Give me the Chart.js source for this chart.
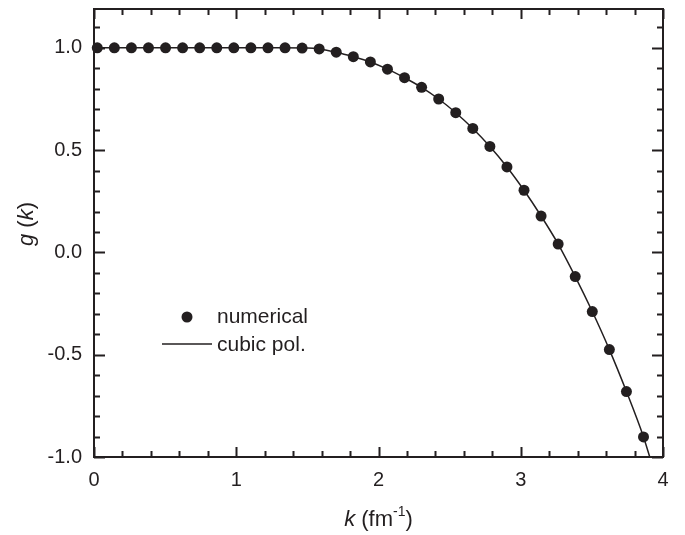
<!DOCTYPE html>
<html>
<head>
<meta charset="utf-8">
<script src="https://cdn.jsdelivr.net/npm/chart.js@4.4.1/dist/chart.umd.min.js"></script>
<style>
  html, body { margin: 0; padding: 0; background: #fff; }
  #wrap { width: 685px; height: 535px; }
</style>
</head>
<body>
<div id="wrap"><canvas id="gChart"></canvas></div>
<script>
// numerical points g(k)
const kPoints = [
    0.023, 0.143, 0.263, 0.383, 0.503, 0.623, 0.743, 0.863, 0.983, 1.103, 1.223,
    1.343, 1.463, 1.583, 1.703, 1.823, 1.943, 2.063, 2.183, 2.303, 2.423, 2.543,
    2.663, 2.783, 2.903, 3.023, 3.143, 3.263, 3.383, 3.503, 3.623, 3.743, 3.863,
];
const gPoints = [
    1.0, 1.0, 1.0, 1.0, 1.0, 1.0, 1.0, 1.0, 1.0, 1.0, 1.0,
    1.0, 0.999, 0.995, 0.979, 0.957, 0.931, 0.896, 0.854, 0.807, 0.750, 0.683,
    0.606, 0.518, 0.418, 0.304, 0.178, 0.041, -0.118, -0.289, -0.475, -0.680, -0.902,
];

// cubic pol. curve
const kCurve = [0.0, 0.5, 1.0, 1.3, 1.5, 1.583, 1.703, 1.823, 1.943, 2.063, 2.183, 2.303,
    2.423, 2.543, 2.663, 2.783, 2.903, 3.023, 3.143, 3.263, 3.383, 3.503, 3.623, 3.743, 3.863, 3.907];
const gCurve = [1.0, 1.0, 1.0, 1.0, 0.999, 0.995, 0.979, 0.957, 0.931, 0.896, 0.854, 0.807,
    0.750, 0.683, 0.606, 0.518, 0.418, 0.304, 0.178, 0.041, -0.118, -0.289, -0.475, -0.680, -0.902, -1.0];

const xTicks = [0, 1, 2, 3, 4];
const yTicks = [-1.0, -0.5, 0.0, 0.5, 1.0];

const ink = '#231f20';
const fontFamily = '"Liberation Sans", Arial, Helvetica, sans-serif';

Chart.defaults.font.family = fontFamily;
Chart.defaults.color = ink;

// frame, inward ticks, legend and axis titles
const framePlugin = {
    id: 'frame',
    afterDraw(chart) {
        const ctx = chart.ctx;
        const a = chart.chartArea;
        const xs = chart.scales.x;
        const ys = chart.scales.y;
        ctx.save();
        ctx.strokeStyle = ink;
        ctx.lineWidth = 2;
        ctx.strokeRect(a.left, a.top, a.right - a.left, a.bottom - a.top);

        // x ticks every 0.2, majors at integers
        for (let i = 0; i <= 20; i++) {
            const v = i * 0.2;
            const px = Math.round(xs.getPixelForValue(v)) + 0.5;
            const len = (i % 5 === 0) ? 10 : 6;
            ctx.beginPath();
            ctx.moveTo(px, a.bottom); ctx.lineTo(px, a.bottom - len);
            ctx.moveTo(px, a.top); ctx.lineTo(px, a.top + len);
            ctx.stroke();
        }
        // y ticks every 0.1, majors at 0.5
        for (let i = -10; i <= 11; i++) {
            const v = i * 0.1;
            const py = Math.round(ys.getPixelForValue(v)) + 0.5;
            const len = (i % 5 === 0) ? 11 : 6;
            ctx.beginPath();
            ctx.moveTo(a.left, py); ctx.lineTo(a.left + len, py);
            ctx.moveTo(a.right, py); ctx.lineTo(a.right - len, py);
            ctx.stroke();
        }

        // legend
        const lx = a.left + 68;
        const ly = a.top + 308;
        ctx.fillStyle = ink;
        ctx.beginPath();
        ctx.arc(lx + 25, ly, 5.5, 0, Math.PI * 2);
        ctx.fill();
        ctx.lineWidth = 1.5;
        ctx.beginPath();
        ctx.moveTo(lx, ly + 27); ctx.lineTo(lx + 50, ly + 27);
        ctx.stroke();
        ctx.font = '21px ' + fontFamily;
        ctx.textBaseline = 'alphabetic';
        ctx.textAlign = 'left';
        ctx.fillText('numerical', lx + 55, ly + 6);
        ctx.fillText('cubic pol.', lx + 55, ly + 34);

        // x title: k (fm^-1)
        const xt = [
            {t: 'k', f: 'italic 22px '},
            {t: ' (fm', f: '22px '},
            {t: '-1', f: '14px ', sup: true},
            {t: ')', f: '22px '},
        ];
        let w = 0;
        xt.forEach(p => { ctx.font = p.f + fontFamily; w += ctx.measureText(p.t).width; });
        let cx = (a.left + a.right) / 2 - w / 2;
        const by = a.bottom + 69;
        xt.forEach(p => {
            ctx.font = p.f + fontFamily;
            ctx.fillText(p.t, cx, p.sup ? by - 10 : by);
            cx += ctx.measureText(p.t).width;
        });

        // y title: g (k), rotated
        const yt = [
            {t: 'g', f: 'italic 22px '},
            {t: ' (', f: '22px '},
            {t: 'k', f: 'italic 22px '},
            {t: ')', f: '22px '},
        ];
        w = 0;
        yt.forEach(p => { ctx.font = p.f + fontFamily; w += ctx.measureText(p.t).width; });
        ctx.translate(a.left - 61, (a.top + a.bottom) / 2 - 9);
        ctx.rotate(-Math.PI / 2);
        cx = -w / 2;
        yt.forEach(p => {
            ctx.font = p.f + fontFamily;
            ctx.fillText(p.t, cx, 0);
            cx += ctx.measureText(p.t).width;
        });
        ctx.restore();
    }
};

new Chart(document.getElementById('gChart').getContext('2d'), {
    type: 'scatter',
    data: {
        datasets: [{
            label: 'cubic pol.',
            data: kCurve.map((k, i) => ({x: k, y: gCurve[i]})),
            showLine: true,
            cubicInterpolationMode: 'monotone',
            borderColor: ink,
            borderWidth: 1.5,
            pointRadius: 0,
            order: 2,
        }, {
            label: 'numerical',
            data: kPoints.map((k, i) => ({x: k, y: gPoints[i]})),
            backgroundColor: ink,
            borderColor: ink,
            borderWidth: 0,
            pointRadius: 5.5,
            clip: false,
            order: 1,
        }]
    },
    options: {
        responsive: true,
        maintainAspectRatio: false,
        animation: false,
        layout: {
            padding: {left: 0, right: 22, top: 9, bottom: 0}
        },
        plugins: {
            legend: {display: false},
            tooltip: {enabled: false},
        },
        scales: {
            x: {
                type: 'linear',
                min: 0,
                max: 4,
                afterFit: (s) => { s.height = 78; s.paddingLeft = 0; s.paddingRight = 0; },
                afterBuildTicks: (s) => { s.ticks = xTicks.map(v => ({value: v})); },
                grid: {display: false, drawTicks: false},
                border: {display: false},
                ticks: {
                    padding: 11,
                    font: {size: 20},
                    color: ink,
                    callback: (v) => String(v),
                }
            },
            y: {
                type: 'linear',
                min: -1,
                max: 1.19,
                afterFit: (s) => { s.width = 94; s.paddingTop = 0; s.paddingBottom = 0; },
                afterBuildTicks: (s) => { s.ticks = yTicks.map(v => ({value: v})); },
                grid: {display: false, drawTicks: false},
                border: {display: false},
                ticks: {
                    padding: 12,
                    font: {size: 20},
                    color: ink,
                    callback: (v) => v.toFixed(1),
                }
            }
        }
    },
    plugins: [framePlugin],
});
</script>
</body>
</html>
